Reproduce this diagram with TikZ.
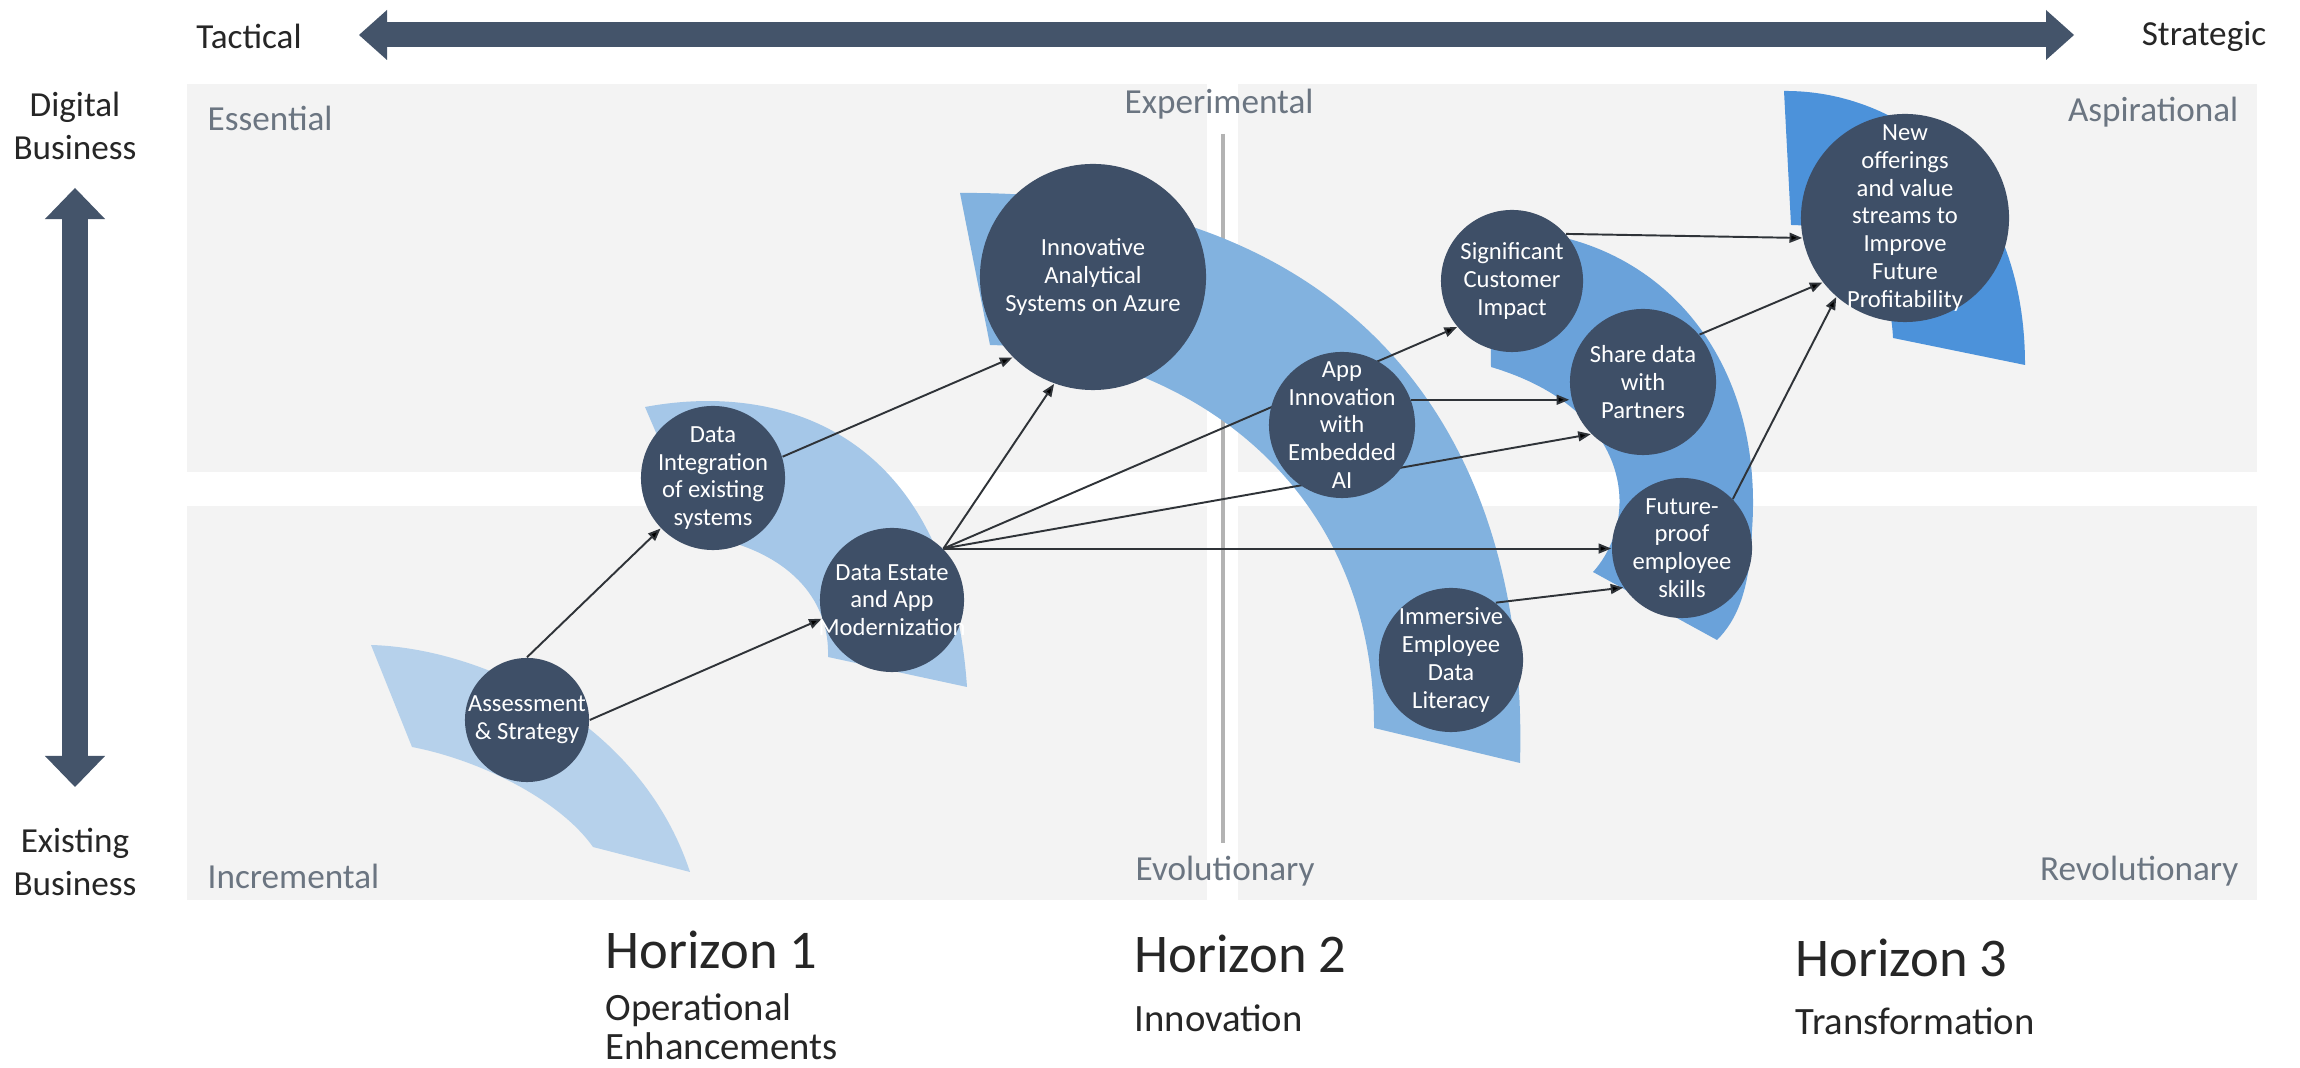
\documentclass[tikz,border=0pt]{standalone}
\usepackage{fontspec}
\setmainfont{Carlito}
\usetikzlibrary{arrows.meta}
\definecolor{panelgray}{HTML}{F3F3F3}
\definecolor{navy}{HTML}{3E4F67}
\definecolor{axisblue}{HTML}{44546A}
\definecolor{quadgray}{HTML}{6B7581}
\definecolor{divgray}{HTML}{B3B3B3}
\definecolor{linkgray}{HTML}{2F3338}
\definecolor{bandA}{HTML}{B6D1EB}
\definecolor{bandB}{HTML}{A5C7E8}
\definecolor{bandC}{HTML}{82B2DF}
\definecolor{bandD}{HTML}{6AA2DA}
\definecolor{bandE}{HTML}{4C92DA}
\pgfdeclarelayer{back}
\pgfdeclarelayer{links}
\pgfsetlayers{back,links,main}

\begin{document}
\begin{tikzpicture}[x=0.01cm, y=-0.01cm,
  hnode/.style={shape=circle, fill=navy, inner sep=0pt},
  ntext/.style={text=white, align=center, inner sep=0pt, font=\fontsize{7}{7.9}\selectfont},
  link/.style={draw=linkgray, line width=0.55pt, -{Triangle[length=3.6pt,width=2.8pt]}},
  axis/.style={text=black!85, inner sep=0pt, align=center, font=\fontsize{10}{12.2}\selectfont},
  quad/.style={text=quadgray, inner sep=0pt, font=\fontsize{10}{12}\selectfont},
  horizon/.style={text=black!85, inner sep=0pt, anchor=west, font=\fontsize{15.5}{18}\selectfont},
  hsub/.style={text=black!85, inner sep=0pt, anchor=west, align=left, font=\fontsize{11}{11.1}\selectfont},
  bigarrow/.style={draw=axisblue, line width=0.25cm}]
\useasboundingbox (0,0) rectangle (2300,1068);

% quadrants and bands
\begin{pgfonlayer}{back}
\fill[white] (0,0) rectangle (2300,1068);
\fill[panelgray] (187,84) rectangle (1207,472);
\fill[panelgray] (1238,84) rectangle (2257,472);
\fill[panelgray] (187,506) rectangle (1207,900);
\fill[panelgray] (1238,506) rectangle (2257,900);
\draw[divgray, line width=1.4pt] (1223,134) -- (1223,843);
\fill[bandA] (371,645) .. controls (480,648) and (640,720) .. (690,872) -- (593,847) .. controls (560,800) and (480,760) .. (412,747) -- cycle;
\fill[bandB] (645,407) .. controls (790,380) and (950,440) .. (967,687) -- (828,657) .. controls (830,600) and (790,550) .. (700,535) -- cycle;
\fill[bandC] (960,193) .. controls (1320,190) and (1530,400) .. (1520,763) -- (1374,728) .. controls (1375,480) and (1180,350) .. (990,345) -- cycle;
\fill[bandD] (1489,230) .. controls (1650,225) and (1765,350) .. (1752,530) .. controls (1750,590) and (1737,620) .. (1717,640) -- (1593,572) .. controls (1640,520) and (1635,410) .. (1491,367) -- cycle;
\fill[bandE] (1784,91) .. controls (1900,90) and (2025,180) .. (2025,365) -- (1893,338) .. controls (1890,270) and (1850,225) .. (1791,225) -- cycle;
\end{pgfonlayer}

% axes
\node[axis] (tactical) at (249,36) {Tactical};
\node[axis] (strategic) at (2204,36) {Strategic};
\node[axis] (digital) at (75,126) {Digital\\Business};
\node[axis] (existing) at (75,862) {Existing\\Business};
\coordinate (tacL) at (359,35);
\coordinate (strR) at (2074,35);
\coordinate (digU) at (75,188);
\coordinate (exiD) at (75,787);
\draw[bigarrow, {Triangle[length=0.28cm,width=0.5cm,line width=0pt]}-{Triangle[length=0.28cm,width=0.5cm,line width=0pt]}] (tacL) -- (strR);
\draw[bigarrow, {Triangle[length=0.31cm,width=0.6cm,line width=0pt]}-{Triangle[length=0.31cm,width=0.6cm,line width=0pt]}] (digU) -- (exiD);

\node[quad, anchor=west] (essential) at (207,118) {Essential};
\node[quad, anchor=west] (experimental) at (1124,104) {Experimental};
\node[quad, anchor=east] (aspirational) at (2239,112) {Aspirational};
\node[quad, anchor=west] (incremental) at (207,876) {Incremental};
\node[quad, anchor=west] (evolutionary) at (1135,871) {Evolutionary};
\node[quad, anchor=east] (revolutionary) at (2239,871) {Revolutionary};

% initiatives
\node[hnode, minimum size=1.24cm, label={[ntext]center:Assessment\\\& Strategy}] (Assess) at (527,720) {};
\node[hnode, minimum size=1.44cm, label={[ntext]center:Data\\Integration\\of existing\\systems}] (DataInt) at (713,478) {};
\node[hnode, minimum size=1.44cm, label={[ntext]center:Data Estate\\and App\\Modernization}] (DataEstate) at (892,600) {};
\node[hnode, minimum size=2.26cm, label={[ntext]center:Innovative\\Analytical\\Systems on Azure}] (Innovative) at (1093,277) {};
\node[hnode, minimum size=1.46cm, label={[ntext]center:App\\Innovation\\with\\Embedded\\AI}] (AppInno) at (1342,425) {};
\node[hnode, minimum size=1.44cm, label={[ntext]center:Immersive\\Employee\\Data\\Literacy}] (Immersive) at (1451,660) {};
\node[hnode, minimum size=1.42cm, label={[ntext]center:Significant\\Customer\\Impact}] (Signif) at (1512,281) {};
\node[hnode, minimum size=1.46cm, label={[ntext]center:Share data\\with\\Partners}] (ShareData) at (1643,382) {};
\node[hnode, minimum size=1.40cm, label={[ntext]center:Future-\\proof\\employee\\skills}] (FutureProof) at (1682,548) {};
\node[hnode, minimum size=2.08cm, label={[ntext]center:New\\offerings\\and value\\streams to\\Improve\\Future\\Profitability}] (NewOffer) at (1905,218) {};

\begin{pgfonlayer}{links}
\path[link] (Assess.north) edge (DataInt)
  (Assess.east) edge (DataEstate.195)
  (DataInt.17) edge (Innovative.225)
  (DataEstate.45) edge (Innovative.250)
  (DataEstate.45) edge (Signif.220)
  (DataEstate.45) edge (ShareData.225)
  (DataEstate.45) edge (DataEstate.45 -| FutureProof.west)
  (AppInno.20) edge (AppInno.20 -| ShareData.west)
  (Immersive.52) edge (FutureProof.214)
  (Signif.41) edge (NewOffer.191)
  (ShareData.40) edge (NewOffer.218)
  (FutureProof.44) edge (NewOffer.229);
\end{pgfonlayer}

% horizons
\node[horizon] (hor1) at (605,950) {Horizon 1};
\node[hsub] (hor1sub) at (605,1027) {Operational\\Enhancements};
\node[horizon] (hor2) at (1134,954) {Horizon 2};
\node[hsub] (hor2sub) at (1134,1018) {Innovation};
\node[horizon] (hor3) at (1795,958) {Horizon 3};
\node[hsub] (hor3sub) at (1795,1021) {Transformation};
\end{tikzpicture}
\end{document}
